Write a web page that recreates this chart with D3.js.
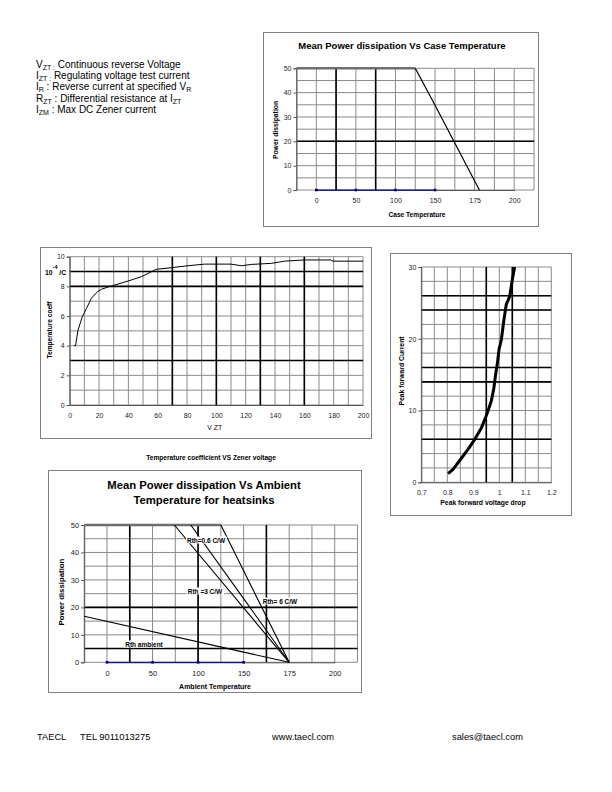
<!DOCTYPE html>
<html><head><meta charset="utf-8">
<script src="https://cdn.jsdelivr.net/npm/d3@7"></script>
<style>body{margin:0;background:#fff} svg{display:block;font-family:"Liberation Sans",Arial,sans-serif}</style>
</head><body><svg id="c" width="612" height="792"></svg>
<script>
// ---------------- DATA ----------------
const legendSymbols = ["V", "I", "I", "R", "I"];
const legendSubs = ["ZT :", "ZT :", "R", "ZT", "ZM"];
const legendTexts = [" Continuous reverse Voltage", "  Regulating voltage test current", "  : Reverse current at specified V", " : Differential resistance at I", "   : Max DC Zener current"];
const legendTailSubs = ["", "", "R", "ZT", ""];

const tempCategories = [0, 50, 100, 150, 175, 200];
const powerTicks = [0, 10, 20, 30, 40, 50];

// Case temperature chart
const caseMaxT = [-25, 125], caseMaxP = [50, 50];
const caseDerateT = [125, 150, 178], caseDerateP = [50, 34.8, 0];
const baseT = [0, 50, 100, 150], baseP = [0, 0, 0, 0];

// Ambient temperature chart
const ambMaxT = [-25, 125], ambMaxP = [50, 50];
const rth6T = [125, 150, 175], rth6P = [50, 33.3, 0];
const rth06T = [92, 150, 175], rth06P = [50, 23.2, 0];
const rth3T = [74, 150, 175], rth3P = [50, 19.8, 0];
const rthAmbT = [-25, 150, 175], rthAmbP = [16.8, 3.7, 0];
const rthLabels = ["Rth=0.6 C/W", "Rth =3 C/W", "Rth= 6 C/W", "Rth ambient"];

// Temperature coefficient vs Zener voltage
const vzt = [3, 4, 5.7, 8.6, 11.4, 14.8, 18.9, 21.6, 26, 30.7, 39.8, 48.9, 59, 69.3, 80.7, 92, 101, 110, 117, 124, 137.5, 146.6, 160, 178, 179.5, 200];
const tcoef = [4, 4, 5.06, 5.96, 6.5, 7.2, 7.64, 7.8, 7.95, 8.09, 8.36, 8.65, 9.15, 9.26, 9.39, 9.5, 9.5, 9.5, 9.39, 9.48, 9.55, 9.7, 9.78, 9.78, 9.7, 9.7];
const vztTicks = [0, 20, 40, 60, 80, 100, 120, 140, 160, 180, 200];
const tcTicks = [0, 2, 4, 6, 8, 10];

// Peak forward current vs voltage drop
const vf = [0.803, 0.822, 0.847, 0.879, 0.905, 0.931, 0.944, 0.956, 0.969, 0.979, 0.985, 0.992, 0.999, 1.008, 1.018, 1.027, 1.04, 1.049, 1.059];
const ifwd = [1.2, 1.8, 3.0, 4.55, 5.95, 7.57, 8.73, 9.9, 11.3, 13.1, 14.8, 16.4, 18.5, 19.9, 22.7, 24.8, 25.9, 28, 30];
const vfTicks = [0.7, 0.8, 0.9, 1, 1.1, 1.2];
const ifTicks = [0, 10, 20, 30];

const footer = ["TAECL", "TEL 9011013275", "www.taecl.com", "sales@taecl.com"];

// ---------------- DRAWING ----------------
const svg = d3.select("#c");
const GRID = "#8a8a8a";

function frame(x0, y0, x1, y1) {
  svg.append("rect").attr("x", x0 + 0.5).attr("y", y0 + 0.5).attr("width", x1 - x0).attr("height", y1 - y0)
    .attr("fill", "none").attr("stroke", "#808080").attr("stroke-width", 1);
}
function gridLines(g, x, y, xs, ys, boldX, boldY) {
  const yr = y.range(), ya = d3.min(yr), yb = d3.max(yr);
  const X0 = x.xmin, X1 = x.xmax;
  xs.forEach(v => g.append("line").attr("x1", x(v)).attr("x2", x(v)).attr("y1", ya).attr("y2", yb).attr("stroke", GRID).attr("stroke-width", 1));
  ys.forEach(v => g.append("line").attr("x1", X0).attr("x2", X1).attr("y1", y(v)).attr("y2", y(v)).attr("stroke", GRID).attr("stroke-width", 1));
  boldX.forEach(v => g.append("line").attr("x1", x(v)).attr("x2", x(v)).attr("y1", ya).attr("y2", yb).attr("stroke", "#000").attr("stroke-width", 1.6));
  boldY.forEach(v => g.append("line").attr("x1", X0).attr("x2", X1).attr("y1", y(v)).attr("y2", y(v)).attr("stroke", "#000").attr("stroke-width", 1.6));
}
function yAxis(g, y, ticks, xPos, fs) {
  const ax = g.append("g").attr("transform", `translate(${xPos},0)`)
    .call(d3.axisLeft(y).tickValues(ticks).tickSize(3).tickPadding(2).tickFormat(d3.format("")));
  ax.select(".domain").attr("stroke", "#555");
  ax.selectAll("line").attr("stroke", "#555");
  ax.selectAll("text").attr("font-size", fs).attr("fill", "#222").attr("font-family", "Liberation Sans, Arial");
}
function xAxis(g, x, ticks, yPos, fs, fmt) {
  const ax = g.append("g").attr("transform", `translate(0,${yPos})`)
    .call(d3.axisBottom(x).tickValues(ticks).tickSize(0).tickPadding(8).tickFormat(fmt || d3.format("")));
  ax.select(".domain").attr("stroke", "#555");
  ax.selectAll("text").attr("font-size", fs).attr("fill", "#222").attr("font-family", "Liberation Sans, Arial");
}
function label(txt, x, y, fs, opts = {}) {
  const t = svg.append("text").attr("x", x).attr("y", y).attr("font-size", fs)
    .attr("font-weight", opts.bold ? "bold" : "normal").attr("text-anchor", opts.anchor || "middle")
    .attr("dominant-baseline", "central").attr("fill", opts.fill || "#000").text(txt);
  if (opts.rotate) t.attr("transform", `rotate(-90,${x},${y})`);
  return t;
}
function tempScale(left, right) {
  const idx = d3.scaleLinear().domain([-0.5, 5.5]).range([left, right]);
  const s = d3.scaleLinear().domain([0, 150, 175, 200]).range([idx(0), idx(3), idx(4), idx(5)]);
  s.xmin = left; s.xmax = right;
  s.grid = d3.range(-0.5, 5.51, 0.5).map(i => s.invert(idx(i)));
  return s;
}
function series(g, x, y, xs, ys, color, width) {
  const pts = xs.map((v, i) => [v, ys[i]]);
  g.append("path").datum(pts).attr("fill", "none").attr("stroke", color).attr("stroke-width", width)
    .attr("stroke-linejoin", "round").attr("d", d3.line().x(d => x(d[0])).y(d => y(d[1])));
}
function baseSeries(g, x, y) {
  series(g, x, y, baseT, baseP, "#000080", 1);
  baseT.forEach((t, i) => g.append("rect").attr("x", x(t) - 1.3).attr("y", y(baseP[i]) - 1.3).attr("width", 2.6).attr("height", 2.6).attr("fill", "#000080"));
}

// ---- Legend text block ----
legendSymbols.forEach((s, i) => {
  const t = svg.append("text").attr("x", 36).attr("y", 68 + i * 11.2).attr("font-size", 10).attr("fill", "#000");
  t.append("tspan").text(s);
  t.append("tspan").attr("font-size", 7).attr("dy", 2).text(legendSubs[i]);
  t.append("tspan").attr("dy", -2).text(legendTexts[i]);
  if (legendTailSubs[i]) t.append("tspan").attr("font-size", 7).attr("dy", 2).text(legendTailSubs[i]);
});

// ---- Chart 1: Case temperature ----
{
  frame(263, 32, 538, 226);
  label("Mean Power dissipation Vs Case Temperature", 402, 45.5, 9.5, {bold: true});
  const x = tempScale(296.5, 534), y = d3.scaleLinear().domain([0, 50]).range([190, 68.3]);
  const g = svg.append("g");
  gridLines(g, x, y, x.grid, d3.range(0, 51, 5), [25, 75], [20]);
  yAxis(g, y, powerTicks, 296.5, 7);
  xAxis(g, x, tempCategories, 190, 7);
  baseSeries(g, x, y);
  series(g, x, y, caseMaxT, caseMaxP, "#6e6e6e", 2.6);
  series(g, x, y, caseDerateT, caseDerateP, "#000", 1.2);
  label("Power dissipation", 275, 130, 6.8, {bold: true, rotate: true});
  label("Case Temperature", 417, 214, 6.6, {bold: true});
}

// ---- Chart 3: Temperature coefficient ----
{
  frame(40, 247, 371, 438);
  const x = d3.scaleLinear().domain([0, 200]).range([69.7, 363]);
  const y = d3.scaleLinear().domain([0, 10]).range([405, 256.7]);
  x.xmin = 69.7; x.xmax = 363;
  const g = svg.append("g");
  gridLines(g, x, y, d3.range(0, 201, 10), d3.range(0, 11, 1), [70, 100, 130, 160], [3, 8, 9]);
  yAxis(g, y, tcTicks, 69.7, 7);
  xAxis(g, x, vztTicks, 405, 7);
  series(g, x, y, vzt, tcoef, "#000", 1);
  label("Temperature coeff", 49.5, 330, 6.6, {bold: true, rotate: true});
  label("V ZT", 214.7, 427.5, 6.8);
  const t = svg.append("text").attr("x", 45).attr("y", 275).attr("font-size", 6.8).attr("font-weight", "bold");
  t.append("tspan").text("10");
  t.append("tspan").attr("dy", -6).attr("font-size", 5.5).text("-4");
  t.append("tspan").attr("dy", 6).text(" /C");
  label("Temperature coefficient VS Zener voltage", 211, 457, 6.6, {bold: true});
}

// ---- Chart 4: Peak forward current ----
{
  frame(390, 253, 571, 515);
  const x = d3.scaleLinear().domain([0.7, 1.2]).range([421.3, 551.3]);
  const y = d3.scaleLinear().domain([0, 30]).range([482.3, 267]);
  x.xmin = 421.3; x.xmax = 551.3;
  const g = svg.append("g");
  gridLines(g, x, y, d3.range(0, 11).map(i => 0.7 + i * 0.05), d3.range(0, 31, 2), [0.95, 1.05], [6, 14, 16, 24, 26]);
  yAxis(g, y, ifTicks, 421.3, 7);
  xAxis(g, x, vfTicks, 482.3, 7, d3.format(""));
  series(g, x, y, vf, ifwd, "#000", 3);
  label("Peak forward Current", 401.5, 371, 6.8, {bold: true, rotate: true});
  label("Peak forward voltage drop", 483, 502, 6.8, {bold: true});
}

// ---- Chart 5: Ambient temperature for heatsinks ----
{
  frame(48, 470, 361, 692);
  label("Mean Power dissipation Vs Ambient", 204, 485, 11.3, {bold: true});
  label("Temperature for heatsinks", 204, 499.5, 11.3, {bold: true});
  const x = tempScale(84.2, 357.5), y = d3.scaleLinear().domain([0, 50]).range([662.3, 525]);
  const g = svg.append("g");
  gridLines(g, x, y, x.grid, d3.range(0, 51, 5), [25, 100, 162.5], [5, 20]);
  yAxis(g, y, powerTicks, 84.2, 7.5);
  xAxis(g, x, tempCategories, 662.3, 7.5);
  baseSeries(g, x, y);
  series(g, x, y, ambMaxT, ambMaxP, "#6e6e6e", 2.6);
  series(g, x, y, rth6T, rth6P, "#000", 1.1);
  series(g, x, y, rth06T, rth06P, "#000", 1.1);
  series(g, x, y, rth3T, rth3P, "#000", 1.1);
  series(g, x, y, rthAmbT, rthAmbP, "#000", 1.1);
  const pos = [[206, 540], [205, 591], [280, 601], [144, 644]];
  rthLabels.forEach((s, i) => {
    const t = label(s, pos[i][0], pos[i][1], 6.5, {bold: true});
    const bb = t.node().getBBox();
    svg.insert("rect", () => t.node()).attr("x", bb.x - 1).attr("y", bb.y).attr("width", bb.width + 2).attr("height", bb.height).attr("fill", "#fff");
  });
  label("Power dissipation", 61, 592, 7.8, {bold: true, rotate: true});
  label("Ambient Temperature", 215, 686, 7, {bold: true});
}

// ---- Footer ----
[[37, footer[0]], [80, footer[1]], [272, footer[2]], [452, footer[3]]].forEach(([x, s]) => {
  svg.append("text").attr("x", x).attr("y", 740).attr("font-size", 9.3).attr("fill", "#000").text(s);
});
</script></body></html>
